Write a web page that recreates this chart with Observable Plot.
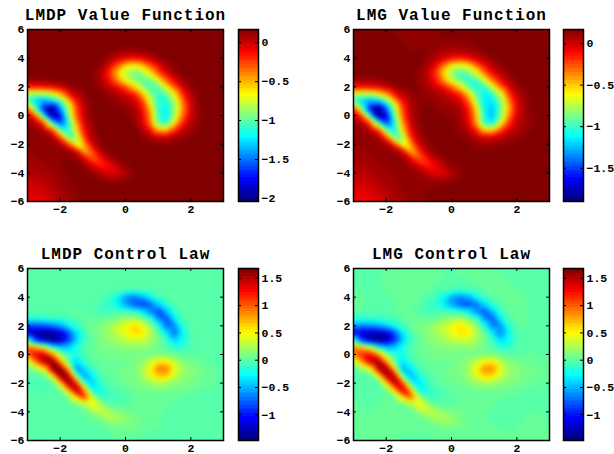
<!DOCTYPE html>
<html><head><meta charset="utf-8">
<script src="https://cdn.jsdelivr.net/npm/d3@7"></script>
<script src="https://cdn.jsdelivr.net/npm/@observablehq/plot@0.6"></script>
<style>html,body{margin:0;padding:0;background:#fff;width:614px;height:454px;overflow:hidden}svg{position:absolute;background:transparent}</style>
</head><body>
<script>
const xGrid=[-3,-2.75,-2.5,-2.25,-2,-1.75,-1.5,-1.25,-1,-.75,-.5,-.25,0,.25,.5,.75,1,1.25,1.5,1.75,2,2.25,2.5,2.75,3];
const yGrid=[6,5.5,5,4.5,4,3.5,3,2.5,2,1.5,1,.5,0,-.5,-1,-1.5,-2,-2.5,-3,-3.5,-4,-4.5,-5,-5.5,-6];
const xTicks=[-2,0,2];
const yTicks=[-6,-4,-2,0,2,4,6];
const lmdpValueTicks=[0,-.5,-1,-1.5,-2];
const lmgValueTicks=[0,-.5,-1,-1.5];
const controlTicks=[1.5,1,.5,0,-.5,-1];
const lmdpValueRange=[-2.04,.17];
const lmgValueRange=[-1.9,.17];
const controlRange=[-1.47,1.68];

const lmdpValue=[
[.17,.17,.17,.17,.17,.17,.17,.17,.17,.17,.17,.17,.17,.17,.17,.17,.17,.17,.17,.17,.17,.17,.17,.17,.17],
[.17,.17,.17,.17,.17,.17,.17,.17,.17,.17,.17,.17,.17,.17,.17,.17,.17,.17,.17,.17,.17,.17,.17,.17,.17],
[.17,.17,.17,.17,.17,.17,.17,.17,.17,.17,.17,.17,.17,.17,.17,.17,.17,.17,.17,.17,.17,.17,.17,.17,.17],
[.17,.17,.17,.17,.17,.17,.17,.17,.17,.17,.15,.12,.1,.1,.12,.15,.17,.17,.17,.17,.17,.17,.17,.17,.17],
[.17,.17,.17,.17,.17,.17,.17,.17,.17,.14,.08,-.02,-.1,-.12,-.08,0,.1,.15,.17,.17,.17,.17,.17,.17,.17],
[.17,.17,.17,.17,.17,.17,.17,.17,.16,.1,-.05,-.3,-.58,-.65,-.55,-.3,-.08,.08,.15,.17,.17,.17,.17,.17,.17],
[.17,.17,.17,.17,.17,.17,.17,.17,.13,.05,-.2,-.55,-.82,-.95,-.88,-.62,-.3,-.05,.1,.16,.17,.17,.17,.17,.17],
[.13,.12,.12,.14,.16,.17,.17,.17,.13,.06,-.12,-.42,-.72,-.92,-1.03,-.95,-.65,-.3,-.05,.1,.16,.17,.17,.17,.17],
[-.15,-.15,-.12,-.08,0,.08,.14,.17,.15,.1,0,-.1,-.28,-.55,-.88,-1.08,-1,-.65,-.3,-.02,.12,.17,.17,.17,.17],
[-.85,-.9,-.85,-.75,-.5,-.15,.02,.12,.16,.15,.1,.05,-.02,-.15,-.48,-.92,-1.12,-1,-.65,-.2,.05,.15,.17,.17,.17],
[-1.05,-1.35,-1.45,-1.3,-1.05,-.6,-.12,.08,.15,.16,.13,.1,.08,0,-.22,-.72,-1.12,-1.15,-.85,-.35,-.02,.13,.17,.17,.17],
[-.35,-1.1,-1.75,-2.05,-1.45,-.85,-.25,.05,.14,.16,.15,.13,.12,.08,-.1,-.52,-1.1,-1.22,-.9,-.42,-.03,.12,.16,.17,.17],
[0,-.35,-1.2,-2,-1.75,-.95,-.3,.03,.14,.17,.17,.16,.14,.1,-.05,-.42,-1.08,-1.25,-.85,-.35,0,.12,.16,.17,.17],
[.12,0,-.3,-1.1,-1.6,-1.15,-.45,-.02,.12,.17,.17,.17,.17,.12,0,-.35,-1.02,-1.12,-.65,-.2,.03,.12,.16,.17,.17],
[.14,.12,.03,-.25,-1,-1.15,-.6,-.1,.1,.17,.17,.17,.17,.15,.06,-.1,-.5,-.55,-.25,-.02,.08,.13,.16,.17,.17],
[.13,.13,.12,.05,-.3,-1,-.85,-.2,.06,.15,.17,.17,.17,.17,.14,.08,-.02,-.02,.05,.1,.14,.17,.17,.17,.17],
[.12,.12,.12,.12,.06,-.25,-.75,-.45,-.02,.12,.16,.17,.17,.17,.17,.15,.13,.12,.14,.17,.17,.17,.17,.17,.17],
[.1,.11,.11,.12,.12,.1,-.05,-.5,-.25,.05,.13,.17,.17,.17,.17,.17,.17,.17,.17,.17,.17,.17,.17,.17,.17],
[.09,.1,.11,.12,.13,.14,.1,-.05,-.3,-.15,.05,.13,.17,.17,.17,.17,.17,.17,.17,.17,.17,.17,.17,.17,.17],
[.07,.08,.09,.11,.13,.15,.15,.1,-.02,-.18,-.1,.03,.12,.15,.17,.17,.17,.17,.17,.17,.17,.17,.17,.17,.17],
[.05,.06,.07,.09,.11,.14,.15,.14,.1,.02,-.05,-.05,.05,.13,.17,.17,.17,.17,.17,.17,.17,.17,.17,.17,.17],
[.01,.02,.04,.07,.1,.13,.15,.16,.17,.13,.1,.1,.12,.15,.17,.17,.17,.17,.17,.17,.17,.17,.17,.17,.17],
[-.03,-.02,0,.04,.09,.12,.14,.16,.17,.17,.17,.17,.17,.17,.17,.17,.17,.17,.17,.17,.17,.17,.17,.17,.17],
[-.05,-.05,-.03,.01,.06,.1,.13,.15,.17,.17,.17,.17,.17,.17,.17,.17,.17,.17,.17,.17,.17,.17,.17,.17,.17],
[-.08,-.08,-.06,-.02,.04,.08,.12,.15,.17,.17,.17,.17,.17,.17,.17,.17,.17,.17,.17,.17,.17,.17,.17,.17,.17]
];
const lmgValue=[
[.17,.17,.17,.17,.17,.13,.13,.13,.13,.13,.14,.15,.16,.17,.17,.17,.17,.17,.17,.17,.17,.17,.17,.17,.17],
[.17,.17,.17,.17,.17,.14,.13,.13,.13,.13,.13,.14,.15,.16,.17,.17,.17,.17,.17,.17,.17,.17,.17,.17,.17],
[.17,.17,.17,.17,.17,.17,.14,.13,.13,.13,.12,.11,.11,.11,.12,.14,.17,.17,.17,.17,.17,.17,.17,.17,.17],
[.17,.17,.17,.17,.17,.17,.15,.13,.14,.14,.11,.08,.06,.06,.08,.11,.14,.16,.17,.17,.17,.17,.17,.17,.17],
[.17,.17,.17,.17,.17,.17,.17,.17,.17,.11,.05,-.03,-.12,-.15,-.1,-.01,.08,.13,.15,.17,.17,.17,.17,.17,.17],
[.17,.17,.17,.17,.17,.17,.17,.17,.14,.08,-.06,-.32,-.58,-.68,-.58,-.33,-.1,.05,.12,.15,.17,.17,.17,.17,.17],
[.17,.17,.17,.17,.17,.17,.17,.17,.11,.03,-.18,-.52,-.84,-.97,-.9,-.65,-.32,-.07,.07,.13,.16,.17,.17,.17,.17],
[.1,.09,.09,.12,.15,.16,.17,.17,.11,.05,-.12,-.4,-.72,-.94,-1.05,-.97,-.68,-.32,-.07,.07,.13,.16,.17,.17,.17],
[-.1,-.1,-.08,-.05,.02,.09,.14,.16,.13,.08,0,-.1,-.28,-.55,-.9,-1.1,-1.02,-.68,-.32,-.04,.09,.15,.17,.17,.17],
[-.7,-.75,-.72,-.6,-.4,-.1,.04,.12,.14,.12,.08,.04,-.03,-.16,-.5,-.94,-1.15,-1.02,-.68,-.22,.03,.12,.16,.17,.17],
[-1.05,-1.25,-1.35,-1.25,-.95,-.5,-.1,.07,.13,.14,.11,.08,.06,-.01,-.25,-.76,-1.15,-1.17,-.88,-.38,-.04,.1,.15,.17,.17],
[-.2,-.95,-1.6,-1.92,-1.45,-.8,-.22,.05,.13,.15,.13,.11,.1,.06,-.12,-.55,-1.12,-1.25,-.92,-.45,-.05,.09,.14,.16,.17],
[.03,-.25,-1.05,-1.9,-1.7,-.95,-.28,.03,.13,.16,.15,.14,.12,.08,-.07,-.45,-1.1,-1.27,-.88,-.38,-.02,.09,.13,.15,.17],
[.12,.02,-.25,-.95,-1.5,-1.1,-.4,-.01,.12,.16,.16,.15,.14,.1,-.02,-.38,-1.02,-1.14,-.68,-.22,.01,.09,.13,.15,.17],
[.14,.12,.04,-.2,-.9,-1.1,-.55,-.08,.1,.16,.17,.16,.14,.12,.04,-.12,-.52,-.58,-.27,-.04,.06,.1,.14,.16,.17],
[.12,.13,.12,.06,-.25,-.95,-.8,-.18,.06,.14,.17,.17,.15,.14,.11,.05,-.04,-.04,.03,.07,.11,.14,.16,.17,.17],
[.11,.12,.12,.12,.07,-.2,-.7,-.42,-.01,.11,.15,.17,.16,.15,.14,.12,.1,.1,.11,.13,.15,.16,.17,.17,.17],
[.09,.1,.11,.12,.13,.1,-.03,-.48,-.22,.05,.12,.16,.17,.16,.15,.14,.14,.14,.15,.16,.17,.17,.17,.17,.17],
[.08,.09,.1,.11,.12,.13,.1,-.03,-.28,-.13,.05,.12,.15,.16,.16,.16,.17,.17,.17,.17,.17,.17,.17,.17,.17],
[.05,.06,.08,.1,.11,.12,.12,.09,-.01,-.16,-.08,.03,.11,.14,.15,.16,.17,.17,.17,.17,.17,.17,.17,.17,.17],
[.03,.04,.05,.08,.1,.11,.12,.12,.09,.02,-.04,-.04,.05,.12,.14,.16,.17,.17,.17,.17,.17,.17,.17,.17,.17],
[0,.01,.03,.06,.08,.1,.12,.12,.12,.1,.09,.09,.11,.14,.16,.17,.17,.17,.17,.17,.17,.17,.17,.17,.17],
[-.04,-.03,-.01,.03,.06,.09,.11,.12,.13,.13,.14,.15,.16,.17,.17,.17,.17,.17,.17,.17,.17,.17,.17,.17,.17],
[-.06,-.06,-.04,-.01,.04,.07,.1,.12,.13,.14,.15,.16,.17,.17,.17,.17,.17,.17,.17,.17,.17,.17,.17,.17,.17],
[-.09,-.09,-.07,-.04,.02,.05,.09,.11,.13,.14,.15,.16,.17,.17,.17,.17,.17,.17,.17,.17,.17,.17,.17,.17,.17]
];
const lmdpControl=[
[0,0,0,0,0,0,0,0,0,0,0,0,0,0,0,0,0,0,0,0,0,0,0,0,0],
[0,0,0,0,0,0,0,0,0,0,0,0,0,0,0,0,0,0,0,0,0,0,0,0,0],
[0,0,0,0,0,0,0,0,0,0,0,0,0,0,0,0,0,0,0,0,0,0,0,0,0],
[0,0,0,0,0,0,0,0,0,0,0,-.03,-.05,-.06,-.05,-.03,0,0,0,0,0,0,0,0,0],
[0,0,0,0,0,0,0,0,0,-.03,-.08,-.25,-.6,-.72,-.55,-.25,-.08,-.02,0,0,0,0,0,0,0],
[0,0,0,0,0,0,0,0,-.03,-.07,-.15,-.3,-.55,-.8,-.92,-.8,-.45,-.12,-.02,0,0,0,0,0,0],
[0,0,0,0,0,0,0,0,-.03,-.1,-.1,-.06,-.05,-.12,-.3,-.7,-.88,-.5,-.1,-.02,0,0,0,0,0],
[-.2,-.18,-.15,-.12,-.1,-.07,-.03,0,.03,.02,.05,.1,.17,.2,.12,-.1,-.65,-.82,-.3,-.06,0,0,0,0,0],
[-.85,-.85,-.8,-.7,-.55,-.3,-.12,0,.07,.1,.2,.33,.45,.62,.45,.18,-.2,-.75,-.65,-.15,-.02,0,0,0,0],
[-1.3,-1.35,-1.42,-1.4,-1.2,-.85,-.38,-.06,.05,.12,.2,.33,.45,.58,.6,.3,.05,-.35,-.75,-.28,-.03,0,0,0,0],
[-.05,-.95,-1.3,-1.42,-1.3,-.9,-.42,-.1,.02,.1,.15,.2,.28,.33,.33,.22,.08,-.08,-.42,-.25,-.05,0,0,0,0],
[1,.75,.45,-.2,-.45,-.42,-.2,-.03,.03,.07,.1,.12,.14,.15,.15,.1,.05,-.03,-.15,-.12,-.04,0,0,0,0],
[.95,1.3,1.4,.9,.25,-.08,-.18,-.05,.02,.05,.07,.07,.07,.06,.07,.08,.1,.08,.03,-.02,-.02,0,0,0,0],
[.3,.9,1.5,1.68,.85,.05,-.42,-.12,.01,.03,.05,.05,.05,.07,.15,.32,.55,.52,.28,.12,.08,.04,0,0,0],
[.03,.2,.5,1.55,1.68,.7,-.6,-.38,-.1,.01,.03,.05,.07,.1,.2,.48,.9,.92,.45,.18,.12,.08,.04,0,0],
[-.04,-.02,.02,.45,1.55,1.55,.05,-.55,-.28,-.05,0,.05,.08,.1,.18,.4,.65,.65,.35,.16,.12,.08,.05,.02,0],
[-.05,-.05,-.07,-.03,.6,1.55,1.2,-.1,-.42,-.12,-.02,.02,.05,.08,.12,.16,.22,.22,.15,.12,.08,.05,.03,0,0],
[-.02,-.03,-.05,-.02,.03,.7,1.55,.8,-.25,-.22,-.07,-.02,0,.05,.07,.08,.08,.08,.07,.05,.03,0,0,0,0],
[0,0,-.01,0,0,.04,.6,1.1,.35,-.1,-.1,-.08,-.04,0,.02,.02,.02,.02,.02,0,0,0,0,0,0],
[0,0,0,0,0,0,.04,.25,.55,.22,0,-.03,-.03,.02,.03,.03,.02,.02,0,0,0,0,0,0,0],
[0,0,0,0,0,0,0,.02,.14,.32,.24,.14,.08,.05,.05,.04,.02,0,0,0,0,0,0,0,0],
[0,0,0,0,0,0,0,0,.02,.08,.24,.22,.17,.07,.05,.04,.01,0,0,0,0,0,0,0,0],
[0,0,0,0,0,0,0,0,0,.01,.05,.08,.08,.07,.05,.03,.01,0,0,0,0,0,0,0,0],
[0,0,0,0,0,0,0,0,0,0,0,.02,.03,.03,.01,0,0,0,0,0,0,0,0,0,0],
[0,0,0,0,0,0,0,0,0,0,0,0,0,0,0,0,0,0,0,0,0,0,0,0,0]
];
const lmgControl=[
[0,0,0,.01,.02,.03,.04,.04,.03,.02,.01,0,0,.01,.02,.03,.02,.01,0,0,0,0,0,0,0],
[0,0,0,0,.02,.04,.05,.05,.04,.03,.02,.01,0,.01,.02,.03,.03,.02,.01,0,0,0,0,0,0],
[0,0,0,0,.01,.03,.05,.05,.04,.03,.01,0,-.01,-.02,-.01,.02,.03,.03,.02,.01,0,0,0,0,0],
[0,0,0,0,.01,.02,.04,.04,.03,.01,-.01,-.04,-.07,-.09,-.07,-.03,.01,.03,.03,.02,.01,0,0,0,0],
[.02,.01,0,0,0,.01,.03,.03,.02,-.03,-.08,-.25,-.56,-.68,-.55,-.25,-.07,0,.03,.03,.02,.01,0,0,0],
[.03,.01,0,0,0,.01,.02,.02,-.01,-.07,-.15,-.3,-.55,-.78,-.86,-.75,-.42,-.12,-.01,.03,.03,.01,0,0,0],
[.01,0,-.02,-.02,-.01,0,.02,.03,-.02,-.08,-.08,-.05,-.05,-.12,-.28,-.65,-.82,-.46,-.1,.01,.03,.01,0,0,0],
[-.15,-.15,-.13,-.1,-.08,-.05,0,.04,.04,.03,.06,.11,.17,.2,.12,-.08,-.6,-.77,-.3,-.06,.02,.01,0,0,0],
[-.6,-.65,-.62,-.55,-.4,-.22,-.08,.03,.08,.11,.2,.32,.43,.58,.43,.18,-.18,-.7,-.62,-.15,0,.01,0,0,0],
[-1.15,-1.25,-1.32,-1.32,-1.2,-.85,-.35,-.05,.06,.12,.2,.32,.43,.55,.56,.3,.05,-.32,-.7,-.28,-.03,0,0,0,0],
[-.12,-.9,-1.3,-1.42,-1.35,-.95,-.45,-.1,.02,.1,.15,.2,.27,.32,.32,.22,.08,-.08,-.4,-.25,-.05,0,0,0,0],
[.9,.65,.35,-.22,-.5,-.45,-.22,-.04,.03,.07,.1,.12,.13,.14,.14,.1,.05,-.03,-.15,-.12,-.04,0,0,0,0],
[.85,1.15,1.28,.85,.22,-.1,-.2,-.06,.02,.05,.07,.07,.07,.06,.07,.08,.1,.08,.03,-.02,-.02,.01,.01,0,0],
[.25,.8,1.4,1.62,.85,.05,-.38,-.12,.01,.03,.05,.05,.05,.07,.15,.32,.52,.5,.28,.12,.08,.05,.03,.02,.01],
[0,.15,.42,1.45,1.6,.65,-.52,-.36,-.08,.01,.03,.05,.07,.1,.2,.45,.85,.88,.45,.18,.12,.09,.06,.04,.02],
[-.03,-.02,.02,.38,1.45,1.48,.05,-.5,-.25,-.05,0,.04,.07,.1,.18,.38,.6,.6,.34,.16,.12,.09,.06,.04,.02],
[-.03,-.04,-.05,-.02,.55,1.45,1.12,-.1,-.38,-.12,-.02,.02,.04,.06,.1,.15,.2,.2,.14,.11,.08,.05,.03,.01,0],
[-.01,-.02,-.03,-.01,.03,.62,1.42,.75,-.22,-.2,-.07,-.02,.01,.03,.05,.06,.06,.06,.05,.04,.02,0,0,0,0],
[0,0,-.01,0,.01,.04,.52,1.02,.34,-.08,-.08,-.06,-.02,.01,.02,.02,.02,.02,.01,0,0,0,0,0,0],
[.01,0,0,.01,.01,.01,.05,.22,.52,.24,.02,-.02,0,.02,.03,.03,.02,.01,0,-.01,-.01,0,0,0,0],
[.01,.01,.01,.01,.01,.01,.01,.03,.14,.32,.26,.16,.1,.07,.05,.04,.02,0,-.02,-.03,-.01,0,.01,0,0],
[.01,.02,.02,.02,.01,.01,.01,.01,.03,.08,.24,.24,.19,.09,.05,.03,.01,0,-.02,-.03,-.01,.01,.02,.01,0],
[.01,.02,.03,.03,.02,.01,.01,.01,.01,.02,.05,.08,.08,.07,.05,.03,.02,.01,0,-.01,.01,.02,.02,.02,.01],
[0,.02,.03,.03,.02,.01,.01,.01,.01,.01,.02,.02,.03,.03,.03,.03,.04,.04,.03,.01,.01,.02,.02,.02,.01],
[0,.01,.02,.02,.01,.01,0,0,0,0,.01,.01,.02,.03,.04,.05,.05,.05,.04,.02,.01,.01,.01,.01,.01]
];

// MATLAB-style 64-level jet
function jetColor(t){
  const c=v=>Math.round(255*Math.max(0,Math.min(1,v)));
  const r=1.5-Math.abs(4*t-3), g=1.5-Math.abs(4*t-2), b=1.5-Math.abs(4*t-1);
  return `rgb(${c(r)},${c(g)},${c(b)})`;
}
const nLevels=64;
const jet=d3.range(nLevels).map(i=>jetColor(i/(nLevels-1)));
const colorScale=([lo,hi])=>({type:"threshold",domain:d3.range(1,nLevels).map(i=>lo+(hi-lo)*i/nLevels),range:jet});

const frameW=196, frameH=172, tickLen=3;
const fontStyle={fontFamily:"'Liberation Mono',monospace",fontWeight:"bold",fontSize:"11.5px",color:"#000",background:"transparent",overflow:"visible"};
const fmt=d=>String(d).replace("-","−");

function place(svg,left,top){svg.style.left=left+"px";svg.style.top=top+"px";document.body.appendChild(svg);}

function heatmap(title,grid,range,left,top){
  if(grid.length!==yGrid.length||grid.some(r=>r.length!==xGrid.length)) throw new Error("bad grid "+title+" "+grid.map(r=>r.length));
  const pts=grid.flatMap((row,i)=>row.map((v,j)=>({x:xGrid[j],y:yGrid[i],v})));
  const ml=27,mt=28,mr=6,mb=16;
  const svg=Plot.plot({
    width:ml+frameW+mr,height:mt+frameH+mb,marginLeft:ml,marginTop:mt,marginRight:mr,marginBottom:mb,
    style:fontStyle,
    x:{domain:[-3,3],axis:null,label:null},
    y:{domain:[-6,6],axis:null,label:null},
    color:colorScale(range),
    marks:[
      Plot.raster(pts,{x:"x",y:"y",fill:"v",interpolate:"barycentric",x1:-3,x2:3,y1:-6,y2:6,blur:1.5}),
      Plot.tickX(xTicks,{x:d=>d,insetTop:frameH-tickLen,strokeWidth:1}),
      Plot.tickX(xTicks,{x:d=>d,insetBottom:frameH-tickLen,strokeWidth:1}),
      Plot.tickY(yTicks,{y:d=>d,insetRight:frameW-tickLen,strokeWidth:1}),
      Plot.tickY(yTicks,{y:d=>d,insetLeft:frameW-tickLen,strokeWidth:1}),
      Plot.axisX({ticks:xTicks,tickSize:0,tickPadding:3,label:null,anchor:"bottom",tickFormat:fmt}),
      Plot.axisY({ticks:yTicks,tickSize:0,tickPadding:3,label:null,anchor:"left",tickFormat:fmt}),
      Plot.frame({stroke:"#000",strokeWidth:1.5}),
      Plot.text([title],{frameAnchor:"top",dy:-21,fontSize:16,fontWeight:"bold",fill:"#000"})
    ]
  });
  svg.querySelectorAll("text").forEach(t=>{if(t.textContent===title)t.style.letterSpacing="1px";});
  place(svg,left-ml,top-mt);
}

function colorbar(ticks,range,left,top){
  const [lo,hi]=range;
  const levels=d3.range(nLevels).map(i=>({lo:lo+(hi-lo)*i/nLevels,hi:lo+(hi-lo)*(i+1)/nLevels,mid:lo+(hi-lo)*(i+.5)/nLevels}));
  const ml=2,mt=4,mr=40,mb=4;
  const svg=Plot.plot({
    width:ml+20+mr,height:mt+frameH+mb,marginLeft:ml,marginTop:mt,marginRight:mr,marginBottom:mb,
    style:fontStyle,
    x:{domain:[0,1],axis:null},
    y:{domain:range,axis:null,label:null},
    color:colorScale(range),
    marks:[
      Plot.rect(levels,{x1:0,x2:1,y1:"lo",y2:"hi",fill:"mid",shapeRendering:"crispEdges"}),
      Plot.tickY(ticks,{y:d=>d,insetRight:17,strokeWidth:1}),
      Plot.tickY(ticks,{y:d=>d,insetLeft:17,strokeWidth:1}),
      Plot.axisY({ticks,tickSize:0,tickPadding:3,label:null,anchor:"right",tickFormat:fmt}),
      Plot.frame({stroke:"#000",strokeWidth:1.5})
    ]
  });
  place(svg,left-ml,top-mt);
}

heatmap("LMDP Value Function",lmdpValue,lmdpValueRange,27,28.5);
colorbar(lmdpValueTicks,lmdpValueRange,237.5,28.5);
heatmap("LMG Value Function",lmgValue,lmgValueRange,352.5,28.5);
colorbar(lmgValueTicks,lmgValueRange,563,28.5);
heatmap("LMDP Control Law",lmdpControl,controlRange,27,267.5);
colorbar(controlTicks,controlRange,237.5,267.5);
heatmap("LMG Control Law",lmgControl,controlRange,352.5,267.5);
colorbar(controlTicks,controlRange,563,267.5);
</script>
</body></html>
